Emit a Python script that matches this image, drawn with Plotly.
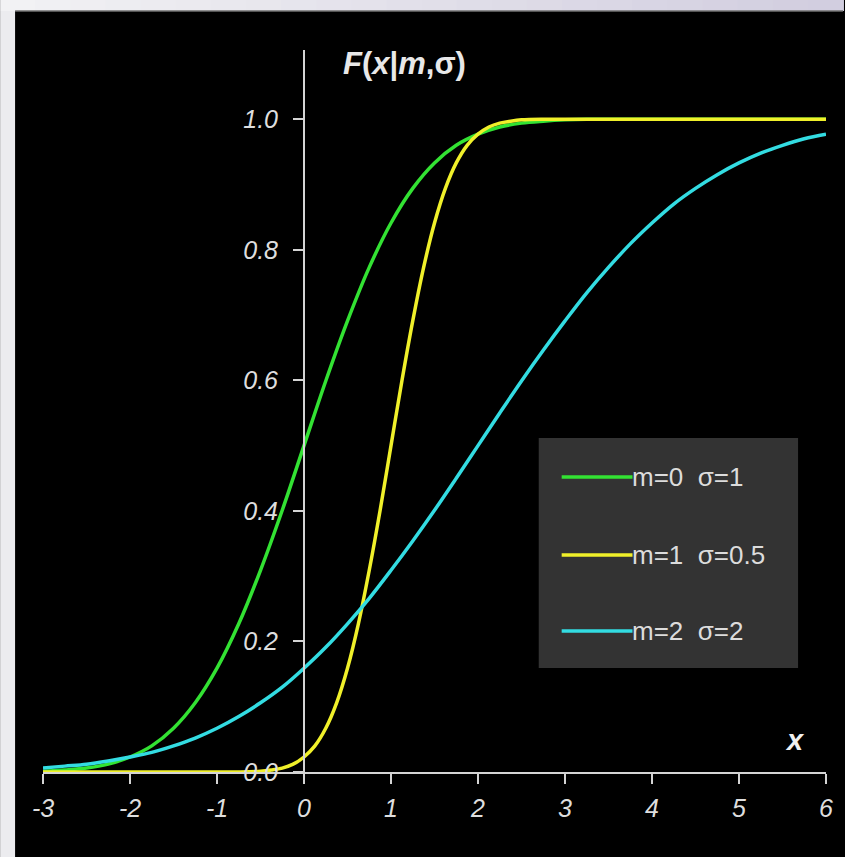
import plotly.graph_objects as go

# ---- data ----
x_vals = [-3.0, -2.75, -2.5, -2.25, -2.0, -1.75, -1.5, -1.25, -1.0, -0.75, -0.5, -0.25,
          0.0, 0.25, 0.5, 0.75, 1.0, 1.25, 1.5, 1.75, 2.0, 2.25, 2.5, 2.75, 3.0,
          3.25, 3.5, 3.75, 4.0, 4.25, 4.5, 4.75, 5.0, 5.25, 5.5, 5.75, 6.0]

f_m0_s1 = [0.001, 0.003, 0.006, 0.012, 0.023, 0.040, 0.067, 0.106, 0.159, 0.227, 0.309, 0.401,
           0.500, 0.599, 0.691, 0.773, 0.841, 0.894, 0.933, 0.960, 0.977, 0.988, 0.994, 0.997, 0.999,
           1.0, 1.0, 1.0, 1.0, 1.0, 1.0, 1.0, 1.0, 1.0, 1.0, 1.0, 1.0]

x_vals_fine = [-3.0, -2.5, -2.0, -1.5, -1.0, -0.75, -0.5, -0.375, -0.25, -0.125,
               0.0, 0.125, 0.25, 0.375, 0.5, 0.625, 0.75, 0.875, 1.0, 1.125, 1.25, 1.375,
               1.5, 1.625, 1.75, 1.875, 2.0, 2.125, 2.25, 2.375, 2.5, 2.75, 3.0,
               3.5, 4.0, 4.5, 5.0, 5.5, 6.0]

f_m1_s05 = [0.0, 0.0, 0.0, 0.0, 0.0, 0.0, 0.001, 0.003, 0.006, 0.012,
            0.023, 0.040, 0.067, 0.106, 0.159, 0.227, 0.309, 0.401, 0.500, 0.599, 0.691, 0.773,
            0.841, 0.894, 0.933, 0.960, 0.977, 0.988, 0.994, 0.997, 0.999, 1.0, 1.0,
            1.0, 1.0, 1.0, 1.0, 1.0, 1.0]

f_m2_s2 = [0.006, 0.009, 0.012, 0.017, 0.023, 0.030, 0.040, 0.052, 0.067, 0.085, 0.106, 0.130,
           0.159, 0.191, 0.227, 0.266, 0.309, 0.354, 0.401, 0.450, 0.500, 0.550, 0.599, 0.646, 0.691,
           0.734, 0.773, 0.809, 0.841, 0.870, 0.894, 0.915, 0.933, 0.948, 0.960, 0.970, 0.977]

series_names = ["m=0\u00a0\u00a0σ=1", "m=1\u00a0\u00a0σ=0.5", "m=2\u00a0\u00a0σ=2"]
series_x = [x_vals, x_vals_fine, x_vals]
series_values = [f_m0_s1, f_m1_s05, f_m2_s2]
series_colors = ["#33e233", "#f0f02a", "#33dce2"]

x_ticks = [-3, -2, -1, 0, 1, 2, 3, 4, 5, 6]
y_ticks = [0.0, 0.2, 0.4, 0.6, 0.8, 1.0]

# ---- layout geometry (pixels) ----
W, H = 845, 857
ML, MR, MT, MB = 43, 17, 50, 85
PW, PH = W - ML - MR, H - MT - MB


def px(xp):
    return (xp - ML) / PW


def py(yp):
    return (H - MB - yp) / PH


FONT = "Liberation Sans, Arial, sans-serif"

fig = go.Figure()
for name, xs, vals, col in zip(series_names, series_x, series_values, series_colors):
    fig.add_trace(go.Scatter(x=xs, y=vals, mode="lines", name=name,
                             line=dict(color=col, width=3.5, shape="spline", smoothing=1.0),
                             showlegend=False))

shapes = []
# light frame (top & left) with a soft gradient
n = 24
for i in range(n):
    t = i / (n - 1)
    r = int(0xf2 + (0xd2 - 0xf2) * t)
    g = int(0xf2 + (0xce - 0xf2) * t)
    b = int(0xf4 + (0xe0 - 0xf4) * t)
    shapes.append(dict(type="rect", xref="paper", yref="paper", layer="below",
                       x0=px(W * i / n), x1=px(W * (i + 1) / n + 1), y0=py(11), y1=py(0),
                       fillcolor=f"rgb({r},{g},{b})", line=dict(width=0)))
shapes.append(dict(type="rect", xref="paper", yref="paper", layer="below",
                   x0=px(0), x1=px(15), y0=py(H), y1=py(11),
                   fillcolor="#ececef", line=dict(width=0)))
shapes.append(dict(type="line", xref="paper", yref="paper", layer="below",
                   x0=px(15), x1=px(W), y0=py(11), y1=py(11),
                   line=dict(color="#707070", width=1.5)))

# custom legend box
shapes.append(dict(type="rect", xref="paper", yref="paper",
                   x0=px(540), x1=px(800), y0=py(668), y1=py(438),
                   fillcolor="#333333", line=dict(width=0)))
legend_y = [477, 555, 631]
annotations = []
for name, col, ly in zip(series_names, series_colors, legend_y):
    shapes.append(dict(type="line", xref="paper", yref="paper",
                       x0=px(563), x1=px(634), y0=py(ly), y1=py(ly),
                       line=dict(color=col, width=3.5)))
    annotations.append(dict(xref="paper", yref="paper", x=px(632), y=py(ly),
                            xanchor="left", yanchor="middle", showarrow=False,
                            text=name, font=dict(family=FONT, size=26, color="#dcdcdc")))

annotations.append(dict(xref="paper", yref="paper", x=px(342), y=py(63),
                        xanchor="left", yanchor="middle", showarrow=False,
                        text="<b><i>F</i>(<i>x</i>|<i>m</i>,σ)</b>",
                        font=dict(family=FONT, size=31, color="#e8e8e8")))
annotations.append(dict(xref="paper", yref="paper", x=px(797), y=py(740),
                        xanchor="center", yanchor="middle", showarrow=False,
                        text="<b><i>x</i></b>",
                        font=dict(family=FONT, size=29, color="#f0f0f0")))

fig.update_layout(
    width=W, height=H,
    margin=dict(l=ML, r=MR, t=MT, b=MB, pad=0),
    paper_bgcolor="#000000", plot_bgcolor="#000000",
    shapes=shapes, annotations=annotations,
    showlegend=False,
    xaxis=dict(range=[-3, 6], tickvals=x_ticks, ticktext=[str(v) for v in x_ticks],
               showgrid=False, zeroline=False, showline=True, linecolor="#d4d4d4",
               linewidth=2, ticks="outside", ticklen=10, tickwidth=2, tickcolor="#d4d4d4",
               ticklabelstandoff=3,
               tickfont=dict(family=FONT, size=25, color="#dedede", style="italic"),
               fixedrange=True),
    yaxis=dict(range=[0, 1.106], tickvals=y_ticks, ticktext=[f"{v:.1f}" for v in y_ticks],
               anchor="free", position=1/3, showgrid=False, zeroline=False,
               showline=True, linecolor="#d4d4d4", linewidth=2, ticks="outside",
               ticklen=10, tickwidth=2, tickcolor="#d4d4d4", ticklabelstandoff=10,
               tickfont=dict(family=FONT, size=25, color="#dedede", style="italic"),
               fixedrange=True),
)

fig.write_html("out.html", config={"displayModeBar": False},
               post_script="document.body.style.margin='0';")
